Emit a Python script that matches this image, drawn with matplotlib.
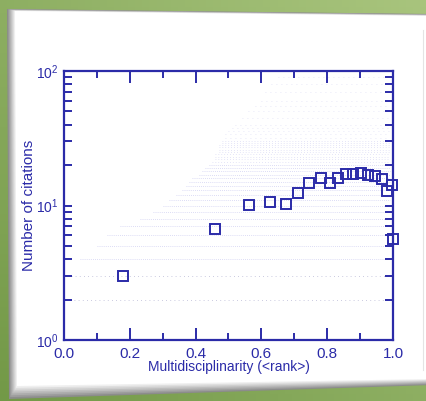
import numpy as np
import matplotlib.pyplot as plt
from matplotlib.patches import Polygon
from matplotlib.ticker import LogLocator, MultipleLocator, NullFormatter

plt.rcParams['font.family'] = ['Liberation Sans', 'DejaVu Sans']
plt.rcParams['mathtext.fontset'] = 'custom'
plt.rcParams['mathtext.rm'] = 'Liberation Sans'
plt.rcParams['mathtext.it'] = 'Liberation Sans:italic'

# binned means (open squares)
rank_mean = [0.18, 0.46, 0.563, 0.627, 0.675, 0.71, 0.746, 0.78, 0.809, 0.834,
             0.857, 0.877, 0.902, 0.925, 0.946, 0.966, 0.982, 0.996, 1.0]
cites_mean = [3.0, 6.65, 10.1, 10.6, 10.3, 12.3, 14.7, 16.0, 14.7, 15.9,
              17.1, 17.1, 17.4, 17.0, 16.7, 15.8, 12.8, 14.1, 5.6]

# individual papers: integer citation counts and the lowest rank seen at each count
paper_cites = [2, 3, 4, 5, 6, 7, 8, 9, 10, 11, 12, 13, 14, 15, 16, 17, 18, 19, 20,
               21, 22, 23, 24, 25, 26, 27, 28, 29, 30, 32, 34, 36, 38, 40,
               45, 50, 55, 60, 70, 80, 90]
paper_rank_min = [0.03, 0.02, 0.05, 0.10, 0.13, 0.17, 0.23, 0.27, 0.30, 0.32,
                  0.34, 0.36, 0.37, 0.38, 0.39, 0.41, 0.42, 0.43, 0.44,
                  0.45, 0.46, 0.46, 0.46, 0.47, 0.47, 0.47, 0.47, 0.48, 0.48,
                  0.49, 0.49, 0.50, 0.51, 0.52, 0.54, 0.56, 0.58, 0.60, 0.61,
                  0.63, 0.65]
paper_rank_max = 0.99

ink = '#2b2ba8'
W, H = 427, 401
fig = plt.figure(figsize=(W / 100, H / 100), dpi=100)

# slide background + white card
bg = fig.add_axes([0, 0, 1, 1])
bg.set_xlim(0, W)
bg.set_ylim(H, 0)
bg.axis('off')
yy, xx = np.mgrid[0:1:60j, 0:1:60j]
top = np.array([0.66, 0.77, 0.49])
low = np.array([0.45, 0.60, 0.28])
mix = np.clip(0.5 * yy + 0.5 * (1 - xx), 0, 1)[..., None]
grad = top * (1 - mix) + low * mix
bg.imshow(grad, extent=[0, W, H, 0], aspect='auto', zorder=0)

for i, t in enumerate(np.linspace(0, 1, 8)):
    g = 0.55 + 0.45 * t
    pts = [(7 + 8 * t, 9 + 2 * t), (432, 14 + 2 * t), (432, 385 - 6 * t), (9 + 8 * t, 399 - 13 * t)]
    bg.add_patch(Polygon(pts, closed=True, facecolor=(g, g, g), edgecolor='none', zorder=1 + i))
bg.plot([423, 423], [30, 370], color='#e4e4e4', lw=0.8, zorder=10)

ax = fig.add_axes([64 / W, 1 - 340 / H, (393 - 64) / W, (340 - 71) / H])
ax.set_facecolor('none')

for c, x0 in zip(paper_cites, paper_rank_min):
    if c <= 3:
        col, a, ls = '#9a9ac4', 0.7, (0, (1, 4))
    elif c <= 20:
        col, a, ls = '#8c8cdc', 0.4, (0, (1, 1.5))
    elif c <= 30:
        col, a, ls = '#8c8cdc', 0.3, (0, (1, 2.5))
    else:
        col, a, ls = '#9a9ae0', 0.3, (0, (1, 5))
    ax.hlines(c, x0, paper_rank_max, colors=col, linestyles=[ls], lw=0.6, alpha=a, zorder=1)

ax.plot(rank_mean, cites_mean, 's', ms=6.8, mfc='none', mec=ink, mew=1.4, zorder=3, clip_on=False)

ax.set_yscale('log')
ax.set_xlim(0, 1)
ax.set_ylim(1, 100)
ax.xaxis.set_major_locator(MultipleLocator(0.2))
ax.xaxis.set_minor_locator(MultipleLocator(0.1))
ax.yaxis.set_major_locator(LogLocator(base=10))
ax.yaxis.set_minor_locator(LogLocator(base=10, subs=np.arange(2, 10)))
ax.yaxis.set_minor_formatter(NullFormatter())
ax.xaxis.set_major_formatter(lambda v, p: f'{v:.1f}')

for s in ax.spines.values():
    s.set_color(ink)
    s.set_linewidth(1.6)
ax.tick_params(which='both', direction='in', top=True, right=True, colors=ink, width=1.4)
ax.tick_params(axis='x', which='major', length=8.5, pad=5, labelsize=11)
ax.tick_params(axis='x', which='minor', length=5)
ax.tick_params(axis='y', which='both', length=5.5, pad=4, labelsize=10)

ax.set_xlabel('Multidisciplinarity (<rank>)', color=ink, fontsize=10, labelpad=-1)
ax.set_ylabel('Number of citations', color=ink, fontsize=11, labelpad=0)

fig.savefig('out.png', dpi=100)
